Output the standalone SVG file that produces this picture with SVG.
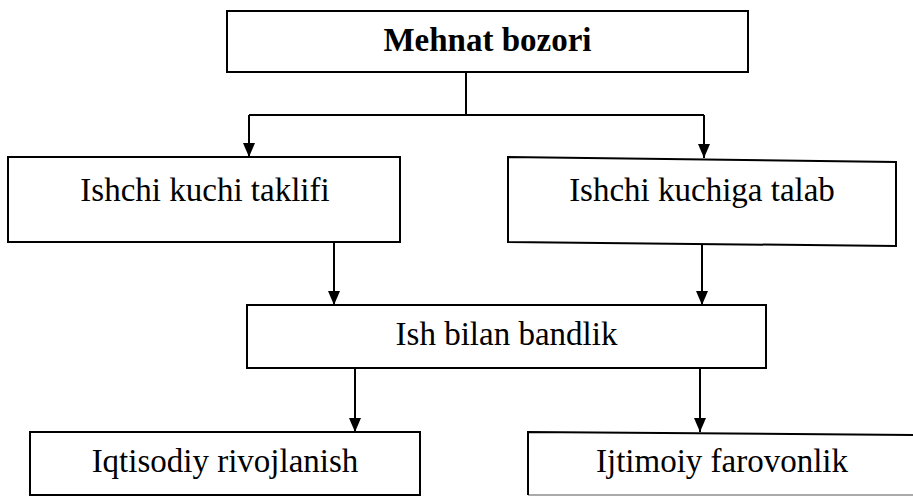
<svg xmlns="http://www.w3.org/2000/svg" width="913" height="496" viewBox="0 0 913 496">
<defs>
<marker id="arr" viewBox="0 0 14 12" refX="14" refY="6" markerWidth="14" markerHeight="12" markerUnits="userSpaceOnUse" orient="auto">
<path d="M0,0 L14,6 L0,12 Z" fill="#000"/>
</marker>
<style>
.box{fill:#fff;stroke:#000;stroke-width:2}
.lbl{font-family:"Liberation Serif","Times New Roman",serif;font-size:33px;fill:#000;text-anchor:middle}
.bold{font-weight:bold}
.conn{fill:none;stroke:#000;stroke-width:2}
</style>
</defs>
<rect width="913" height="496" fill="#fff"/>
<g id="connectors">
<path class="conn" d="M466,72 V115"/>
<path class="conn" d="M249,115 H704"/>
<path class="conn" d="M249,115 V157" marker-end="url(#arr)"/>
<path class="conn" d="M704,115 V158" marker-end="url(#arr)"/>
<path class="conn" d="M334,242 V305" marker-end="url(#arr)"/>
<path class="conn" d="M702,244 V305" marker-end="url(#arr)"/>
<path class="conn" d="M355,368 V432" marker-end="url(#arr)"/>
<path class="conn" d="M700,368 V432" marker-end="url(#arr)"/>
</g>
<g id="mehnat-bozori">
<rect class="box" x="227" y="11" width="521" height="61"/>
<text class="lbl bold" x="487.5" y="51">Mehnat bozori</text>
</g>
<g id="ishchi-kuchi-taklifi">
<rect class="box" x="8" y="157" width="392" height="85"/>
<text class="lbl" x="205" y="201">Ishchi kuchi taklifi</text>
</g>
<g id="ishchi-kuchiga-talab">
<polygon class="box" points="508,157 896,162 896,246 508,242"/>
<text class="lbl" x="702" y="201">Ishchi kuchiga talab</text>
</g>
<g id="ish-bilan-bandlik">
<rect class="box" x="247" y="305" width="519" height="63"/>
<text class="lbl" x="506.5" y="345">Ish bilan bandlik</text>
</g>
<g id="iqtisodiy-rivojlanish">
<rect class="box" x="30" y="432" width="390" height="63"/>
<text class="lbl" x="225" y="472">Iqtisodiy rivojlanish</text>
</g>
<g id="ijtimoiy-farovonlik">
<path d="M528,495 H913" fill="none" stroke="#aaa" stroke-width="2"/>
<path class="conn" d="M914,435 L528,432 V495"/>
<text class="lbl" x="722" y="472">Ijtimoiy farovonlik</text>
</g>
</svg>
